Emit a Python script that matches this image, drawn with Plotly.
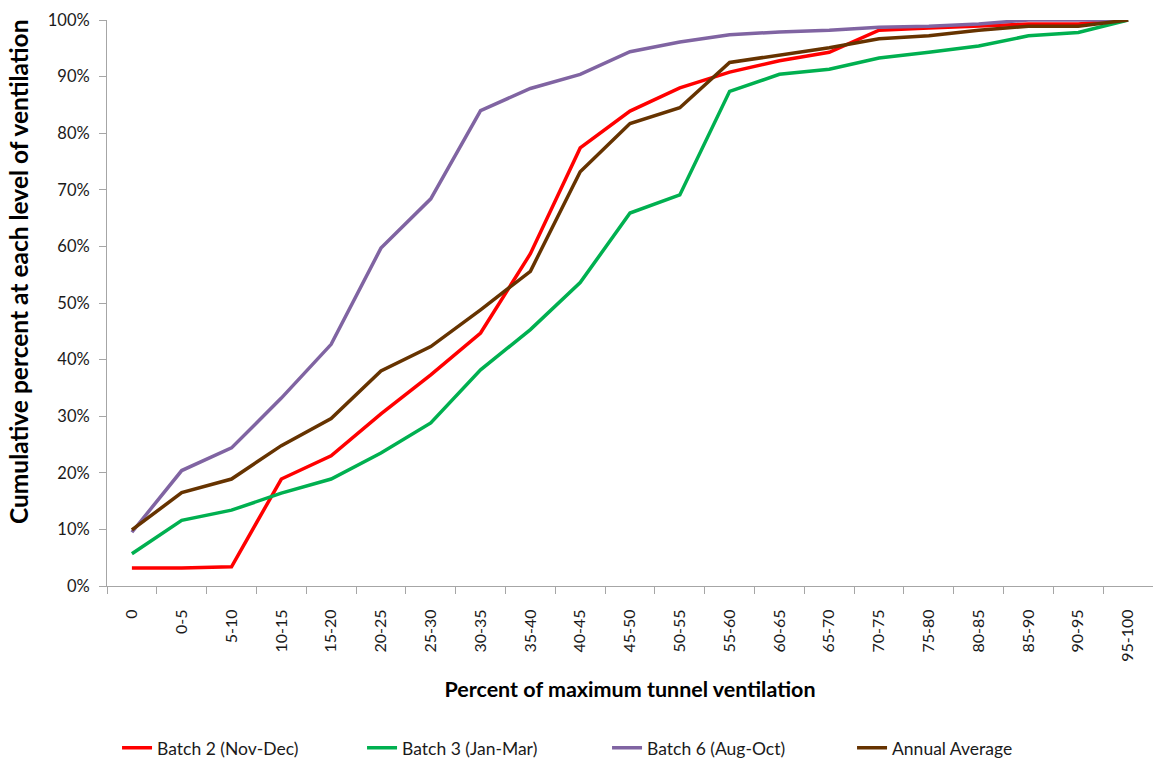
import plotly.graph_objects as go

categories = ["0", "0-5", "5-10", "10-15", "15-20", "20-25", "25-30", "30-35", "35-40", "40-45",
              "45-50", "50-55", "55-60", "60-65", "65-70", "70-75", "75-80", "80-85", "85-90",
              "90-95", "95-100"]

batch2 = [3.2, 3.2, 3.4, 18.9, 23.0, 30.4, 37.3, 44.7, 58.7, 77.4,
          83.9, 88.0, 90.8, 92.8, 94.3, 98.2, 98.6, 98.9, 99.3, 99.3, 100.0]
batch3 = [5.7, 11.6, 13.4, 16.4, 18.9, 23.5, 28.8, 38.2, 45.3, 53.6,
          65.9, 69.1, 87.4, 90.4, 91.3, 93.3, 94.3, 95.4, 97.2, 97.8, 100.0]
batch6 = [9.5, 20.4, 24.4, 33.2, 42.7, 59.7, 68.4, 84.0, 87.9, 90.4,
          94.4, 96.1, 97.4, 97.9, 98.2, 98.7, 98.9, 99.3, 100.0, 100.0, 100.0]
annual = [9.9, 16.5, 18.9, 24.8, 29.6, 38.0, 42.3, 48.8, 55.6, 73.2,
          81.7, 84.5, 92.5, 93.8, 95.1, 96.7, 97.2, 98.2, 98.9, 98.9, 100.0]

series = [
    ("Batch 2 (Nov-Dec)", batch2, "#FF0000"),
    ("Batch 3 (Jan-Mar)", batch3, "#00B050"),
    ("Batch 6 (Aug-Oct)", batch6, "#8064A2"),
    ("Annual Average", annual, "#663300"),
]

FONT = "Lato, 'Open Sans', sans-serif"

fig = go.Figure()
for name, vals, color in series:
    fig.add_trace(go.Scatter(
        x=categories, y=[v / 100 for v in vals], name=name, mode="lines",
        line=dict(color=color, width=3.5),
    ))

axis_color = "#A6A6A6"
fig.update_layout(
    width=1153, height=760,
    paper_bgcolor="white", plot_bgcolor="white",
    margin=dict(l=107, r=0, t=20, b=174, autoexpand=False),
    font=dict(family=FONT, size=16, color="#1a1a1a"),
    showlegend=True,
    legend=dict(
        orientation="h", xref="paper", yref="container",
        x=0.0096, y=0.016, xanchor="left", yanchor="middle",
        entrywidth=200, entrywidthmode="pixels",
        font=dict(family=FONT, size=17.5, color="#1a1a1a"),
        itemwidth=30,
    ),
    xaxis=dict(
        type="category", tickangle=-90, automargin=False,
        showline=True, linecolor=axis_color, linewidth=1,
        ticks="outside", tickson="boundaries", ticklen=7, tickcolor=axis_color,
        ticklabelstandoff=16,
        showgrid=False, zeroline=False,
        tickfont=dict(family=FONT, size=16, color="#1a1a1a"),
        title=dict(text="<b>Percent of maximum tunnel ventilation</b>",
                   font=dict(family=FONT, size=21.5, color="#000000"), standoff=21),
        range=[-0.5, 20.5],
    ),
    yaxis=dict(
        range=[0, 1], tickformat=".0%", dtick=0.1, automargin=False,
        showline=True, linecolor=axis_color, linewidth=1,
        ticks="outside", ticklen=7, tickcolor=axis_color,
        ticklabelstandoff=6,
        showgrid=False, zeroline=False,
        tickfont=dict(family=FONT, size=16.5, color="#1a1a1a"),
    ),
    annotations=[dict(
        text="<b>Cumulative percent at each level of ventilation</b>",
        textangle=-90, showarrow=False,
        xref="paper", yref="paper",
        x=(18 - 107) / 1046, y=(586 - 272) / 566,
        xanchor="center", yanchor="middle",
        font=dict(family=FONT, size=24.5, color="#000000"),
    )],
)

fig.write_html("out.html", config={"displayModeBar": False},
               post_script="document.body.style.margin='0';")
